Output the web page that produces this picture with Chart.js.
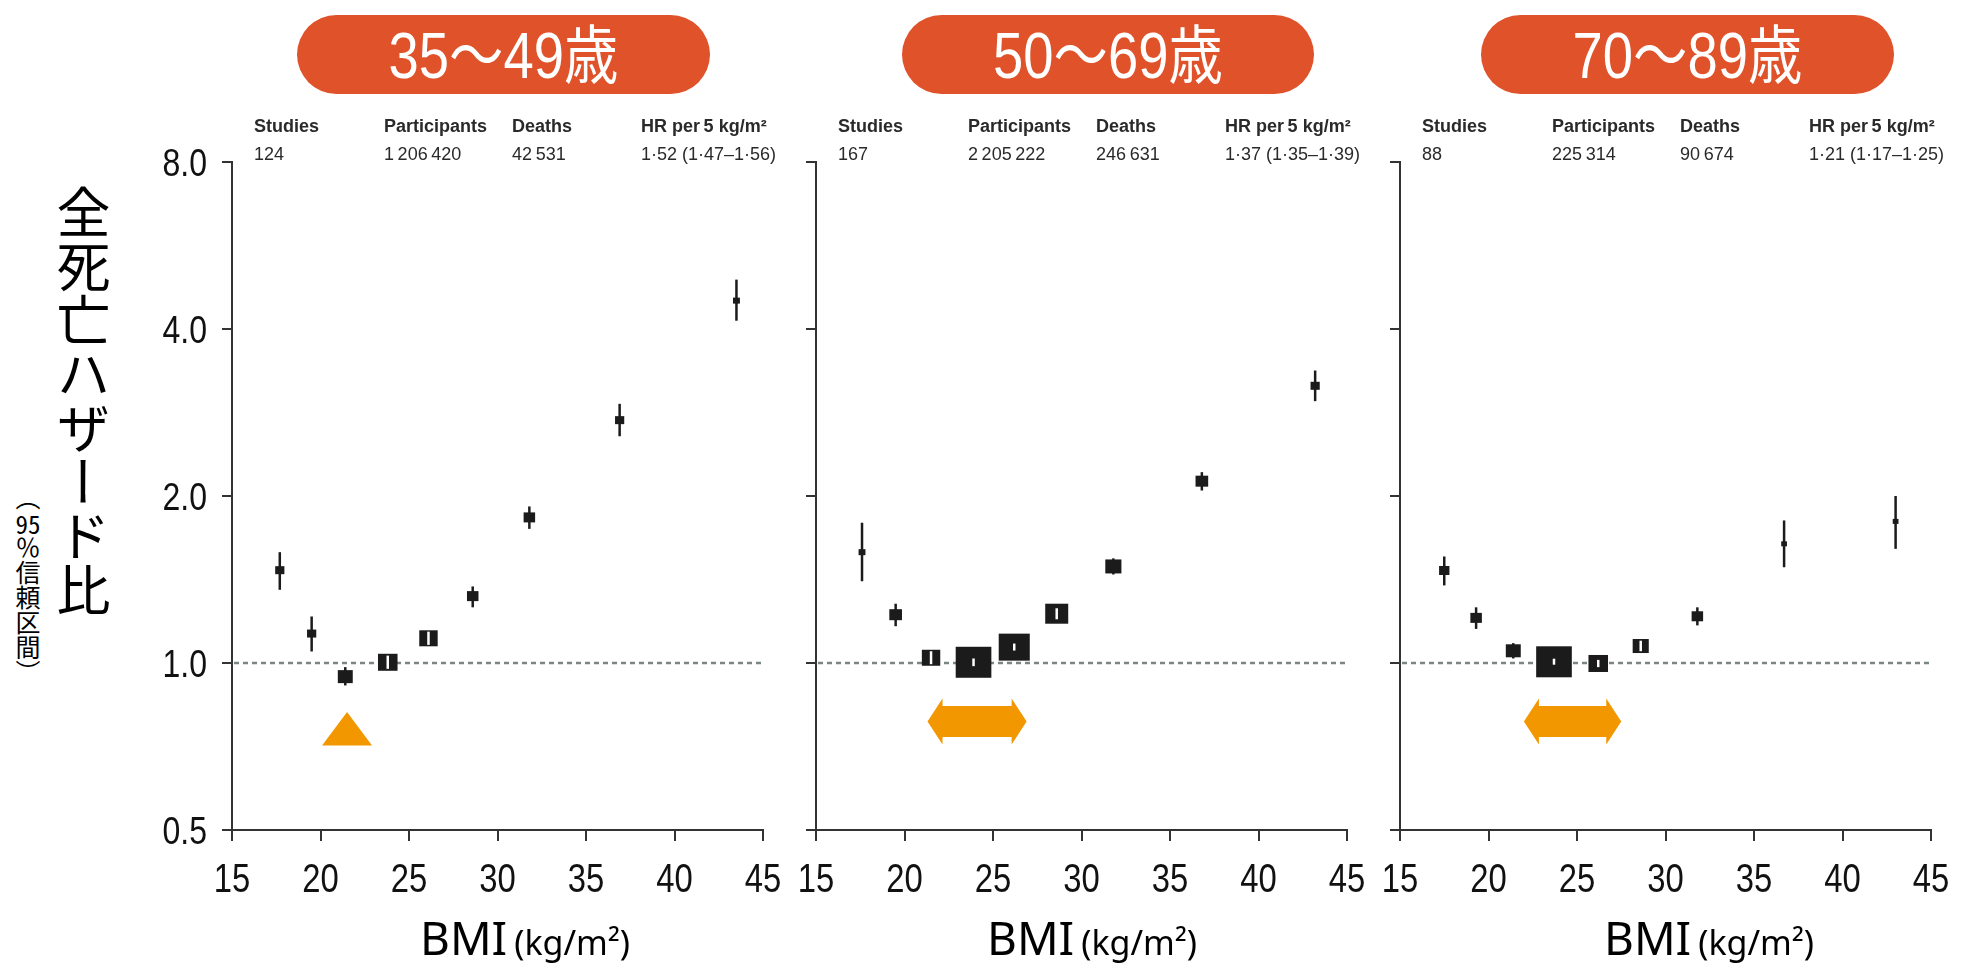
<!DOCTYPE html>
<html>
<head>
<meta charset="utf-8">
<script src="https://cdn.jsdelivr.net/npm/chart.js@4.4.1/dist/chart.umd.min.js"></script>
<style>
  html, body { margin: 0; padding: 0; background: #fff; }
  #page { position: relative; width: 1961px; height: 964px; overflow: hidden; background: #fff; }
  #page canvas { position: absolute; top: 0; }
  .ylab { position: absolute; writing-mode: vertical-rl; font-family: 'Noto Sans CJK JP', sans-serif;
          color: #000; white-space: nowrap; line-height: 1; }
  .tcy { text-combine-upright: all; }
</style>
</head>
<body>
<div id="page">
  <div class="ylab" style="left:56px; top:185px; font-size:54px;">全死亡ハザード比</div>
  <div class="ylab" style="left:15px; top:485px; font-size:25px;">︵<span class="tcy">95</span>％信頼区間︶</div>
</div>
<script>
// ---- data -------------------------------------------------------------
const ageGroups = ['35～49歳', '50～69歳', '70～89歳'];
const xTicks = [15, 20, 25, 30, 35, 40, 45];
const yTicks = [0.5, 1, 2, 4, 8];

// 35-49 years: BMI category medians, hazard ratios, 95% CI, relative weight
const bmi1 = [17.7, 19.5, 21.4, 23.8, 26.1, 28.6, 31.8, 36.9, 43.5];
const hr1  = [1.47, 1.13, 0.945, 1.003, 1.108, 1.32, 1.83, 2.74, 4.50];
const lo1  = [1.355, 1.049, 0.911, 0.976, 1.078, 1.26, 1.745, 2.563, 4.14];
const hi1  = [1.584, 1.213, 0.983, 1.031, 1.139, 1.374, 1.915, 2.932, 4.91];
const weight1 = [8, 8, 13, 17, 16, 10, 10, 8, 6];

// 50-69 years
const bmi2 = [17.6, 19.5, 21.5, 23.9, 26.2, 28.6, 31.8, 36.8, 43.2];
const hr2  = [1.584, 1.222, 1.022, 1.003, 1.068, 1.227, 1.493, 2.127, 3.16];
const lo2  = [1.404, 1.165, 0.995, 0.987, 1.053, 1.199, 1.444, 2.046, 2.965];
const hi2  = [1.79, 1.279, 1.05, 1.019, 1.084, 1.255, 1.544, 2.208, 3.367];
const weight2 = [6, 11, 16, 31, 27, 20, 14, 11, 8];

// 70-89 years
const bmi3 = [17.5, 19.3, 21.4, 23.7, 26.2, 28.6, 31.8, 36.7, 43.0];
const hr3  = [1.468, 1.206, 1.052, 1.005, 0.998, 1.073, 1.214, 1.64, 1.80];
const lo3  = [1.38, 1.152, 1.019, 0.993, 0.983, 1.05, 1.169, 1.488, 1.606];
const hi3  = [1.556, 1.26, 1.086, 1.018, 1.013, 1.097, 1.26, 1.807, 2.0];
const weight3 = [9, 10, 13, 31, 17, 14, 10, 5, 5];

// study summary per age group
const studies = [124, 167, 88];
const participants = [1206420, 2205222, 225314];
const deaths = [42531, 246631, 90674];
const hrPer5 = [1.52, 1.37, 1.21];
const hrPer5Lo = [1.47, 1.35, 1.17];
const hrPer5Hi = [1.56, 1.39, 1.25];

// BMI range of lowest mortality (single value = point marker)
const lowestRiskBmi = [[21.5, 21.5], [21.3, 26.9], [22.0, 27.5]];

const panels = [
  { bmi: bmi1, hr: hr1, lo: lo1, hi: hi1, weight: weight1 },
  { bmi: bmi2, hr: hr2, lo: lo2, hi: hi2, weight: weight2 },
  { bmi: bmi3, hr: hr3, lo: lo3, hi: hi3, weight: weight3 }
];

// ---- layout & style -----------------------------------------------------
const PAGE_H = 964;
const AXIS_X = [232, 816, 1400];
const PLOT_W = 531;
const PLOT_TOP = 162, PLOT_BOTTOM = 830;
const Y_AXIS_W = [232, 130, 130];
const RIGHT_PAD = 30;
const X_AXIS_H = 70;
const PILLS = [{ x: 297, w: 413 }, { x: 902, w: 412 }, { x: 1481, w: 413 }];
const PILL_TOP = 15, PILL_H = 79;
const TITLE_CX = [525, 1092, 1709];
const STAT_COLS = [22, 152, 280, 409];
const STAT_HEAD = ['Studies', 'Participants', 'Deaths', 'HR per\u20095 kg/m²'];

const AXIS_COLOR = '#333';
const MARK_COLOR = '#1b1b1b';
const REF_COLOR = '#7b8684';
const ORANGE = '#F39700';
const PILL_COLOR = '#E0522A';
const BOX_ASPECT = 1.15;
const SANS = "'Liberation Sans', Arial, sans-serif";
const NARROW_X = 0.82;          // horizontal compression of tick numerals

const groupThin = n => String(n).replace(/\B(?=(\d{3})+(?!\d))/g, '\u2009');
const dot = v => v.toFixed(2).replace('.', '·');

// condensed text: draw with horizontal scaling around the anchor
function narrowText(ctx, text, x, y, align, sx) {
  ctx.save();
  ctx.translate(x, y);
  ctx.scale(sx, 1);
  ctx.textAlign = align;
  ctx.fillText(text, 0, 0);
  ctx.restore();
}

function drawTextRun(ctx, parts, cx, baseline) {
  let total = 0;
  parts.forEach(p => { ctx.font = p.font; total += ctx.measureText(p.text).width + (p.gap || 0); });
  let x = cx - total / 2;
  ctx.textAlign = 'left';
  ctx.textBaseline = 'alphabetic';
  parts.forEach(p => {
    ctx.font = p.font;
    ctx.fillText(p.text, x, baseline);
    x += ctx.measureText(p.text).width + (p.gap || 0);
  });
}

const forestPlugin = {
  id: 'forest',
  beforeDatasetsDraw(chart) {
    const p = chart.options.plugins.forest.panel;
    const ctx = chart.ctx, xs = chart.scales.x, ys = chart.scales.y;
    const y1 = ys.getPixelForValue(1);
    ctx.save();
    // reference line at HR = 1
    ctx.strokeStyle = REF_COLOR;
    ctx.lineWidth = 2.5;
    ctx.setLineDash([5, 4]);
    ctx.beginPath();
    ctx.moveTo(xs.getPixelForValue(15) + 2, y1);
    ctx.lineTo(xs.getPixelForValue(45), y1);
    ctx.stroke();
    ctx.setLineDash([]);
    // lowest-risk BMI marker
    const [a, b] = lowestRiskBmi[p];
    ctx.fillStyle = ORANGE;
    ctx.beginPath();
    if (a === b) {
      const cx = xs.getPixelForValue(a);
      ctx.moveTo(cx, y1 + 49);
      ctx.lineTo(cx + 25, y1 + 82.5);
      ctx.lineTo(cx - 25, y1 + 82.5);
    } else {
      const xa = xs.getPixelForValue(a), xb = xs.getPixelForValue(b), cy = y1 + 58.5;
      const hl = 15, hh = 23, sh = 15.5;
      ctx.moveTo(xa, cy);
      ctx.lineTo(xa + hl, cy - hh);
      ctx.lineTo(xa + hl, cy - sh);
      ctx.lineTo(xb - hl, cy - sh);
      ctx.lineTo(xb - hl, cy - hh);
      ctx.lineTo(xb, cy);
      ctx.lineTo(xb - hl, cy + hh);
      ctx.lineTo(xb - hl, cy + sh);
      ctx.lineTo(xa + hl, cy + sh);
      ctx.lineTo(xa + hl, cy + hh);
    }
    ctx.closePath();
    ctx.fill();
    ctx.restore();
  },
  afterDatasetsDraw(chart) {
    const p = chart.options.plugins.forest.panel;
    const d = panels[p];
    const ctx = chart.ctx, ys = chart.scales.y;
    const meta = chart.getDatasetMeta(0);
    ctx.save();
    meta.data.forEach((pt, i) => {
      const x = pt.x, y = pt.y;
      const yLo = ys.getPixelForValue(d.lo[i]);
      const yHi = ys.getPixelForValue(d.hi[i]);
      const h = d.weight[i], w = h * BOX_ASPECT;
      ctx.strokeStyle = MARK_COLOR;
      ctx.lineWidth = 2.5;
      ctx.beginPath();
      ctx.moveTo(x, yHi);
      ctx.lineTo(x, yLo);
      ctx.stroke();
      ctx.fillStyle = MARK_COLOR;
      ctx.fillRect(x - w / 2, y - h / 2, w, h);
      if (yHi > y - h / 2 && yLo < y + h / 2) {
        ctx.strokeStyle = '#fff';
        ctx.lineWidth = 2.5;
        ctx.beginPath();
        ctx.moveTo(x, yHi);
        ctx.lineTo(x, yLo);
        ctx.stroke();
      }
    });
    ctx.restore();
  },
  afterDraw(chart) {
    const p = chart.options.plugins.forest.panel;
    const off = chart.options.plugins.forest.left;
    const ctx = chart.ctx, xs = chart.scales.x, ys = chart.scales.y;
    ctx.save();
    ctx.textBaseline = 'alphabetic';

    // tick labels (condensed numerals) taken from the chart's own scales
    ctx.fillStyle = '#111';
    ctx.font = `40px ${SANS}`;
    xs.ticks.forEach(t => {
      narrowText(ctx, String(t.value), xs.getPixelForValue(t.value), 892, 'center', NARROW_X);
    });
    if (p === 0) {
      ctx.font = `39px ${SANS}`;
      ys.ticks.forEach(t => {
        narrowText(ctx, Number(t.value).toFixed(1), ys.left + ys.width - 25,
                   ys.getPixelForValue(t.value) + 14, 'right', NARROW_X);
      });
    }

    // age group pill
    const pill = PILLS[p];
    ctx.fillStyle = PILL_COLOR;
    ctx.beginPath();
    ctx.roundRect(pill.x - off, PILL_TOP, pill.w, PILL_H, PILL_H / 2);
    ctx.fill();
    ctx.fillStyle = '#fff';
    ctx.font = `64px 'Liberation Sans', 'Noto Sans CJK JP', sans-serif`;
    narrowText(ctx, ageGroups[p], pill.x - off + pill.w / 2, 78, 'center', 0.85);

    // summary table
    const ax = AXIS_X[p] - off;
    const vals = [String(studies[p]), groupThin(participants[p]), groupThin(deaths[p]),
      `${dot(hrPer5[p])} (${dot(hrPer5Lo[p])}–${dot(hrPer5Hi[p])})`];
    ctx.fillStyle = '#2a2a2a';
    ctx.textAlign = 'left';
    STAT_COLS.forEach((c, k) => {
      ctx.font = `bold 18px ${SANS}`;
      ctx.fillText(STAT_HEAD[k], ax + c, 132);
      ctx.font = `18px ${SANS}`;
      ctx.fillText(vals[k], ax + c, 160);
    });

    // x-axis title
    ctx.fillStyle = '#000';
    drawTextRun(ctx, [
      { text: 'BMI', font: "46px 'Noto Sans', sans-serif", gap: 7 },
      { text: '(kg/m²)', font: "34px 'Noto Sans', sans-serif" }
    ], TITLE_CX[p] - off, 955);
    ctx.restore();
  }
};

const page = document.getElementById('page');
panels.forEach((d, p) => {
  const left = AXIS_X[p] - Y_AXIS_W[p];
  const canvas = document.createElement('canvas');
  canvas.width = Y_AXIS_W[p] + PLOT_W + RIGHT_PAD;
  canvas.height = PAGE_H;
  canvas.style.left = left + 'px';
  page.appendChild(canvas);

  new Chart(canvas, {
    type: 'scatter',
    data: {
      datasets: [{
        data: d.bmi.map((x, i) => ({ x, y: d.hr[i] })),
        pointRadius: 0,
        pointHoverRadius: 0,
        showLine: false
      }]
    },
    options: {
      responsive: false,
      animation: false,
      devicePixelRatio: 1,
      events: [],
      layout: { padding: { top: PLOT_TOP, bottom: PAGE_H - PLOT_BOTTOM - X_AXIS_H, left: 0, right: RIGHT_PAD } },
      plugins: {
        legend: { display: false },
        tooltip: { enabled: false },
        forest: { panel: p, left }
      },
      scales: {
        x: {
          type: 'linear',
          min: 15, max: 45,
          afterBuildTicks: s => { s.ticks = xTicks.map(v => ({ value: v })); },
          afterFit: s => { s.height = X_AXIS_H; },
          ticks: { display: false, autoSkip: false, maxRotation: 0 },
          grid: { drawOnChartArea: false, drawTicks: true, tickLength: 11, color: AXIS_COLOR, lineWidth: 2 },
          border: { display: true, color: AXIS_COLOR, width: 2 }
        },
        y: {
          type: 'logarithmic',
          min: 0.5, max: 8,
          afterBuildTicks: s => { s.ticks = yTicks.map(v => ({ value: v })); },
          afterFit: s => { s.width = Y_AXIS_W[p]; },
          ticks: { display: false, autoSkip: false },
          grid: { drawOnChartArea: false, drawTicks: true, tickLength: 10, color: AXIS_COLOR, lineWidth: 2 },
          border: { display: true, color: AXIS_COLOR, width: 2 }
        }
      }
    },
    plugins: [forestPlugin]
  });
});
</script>
</body>
</html>
